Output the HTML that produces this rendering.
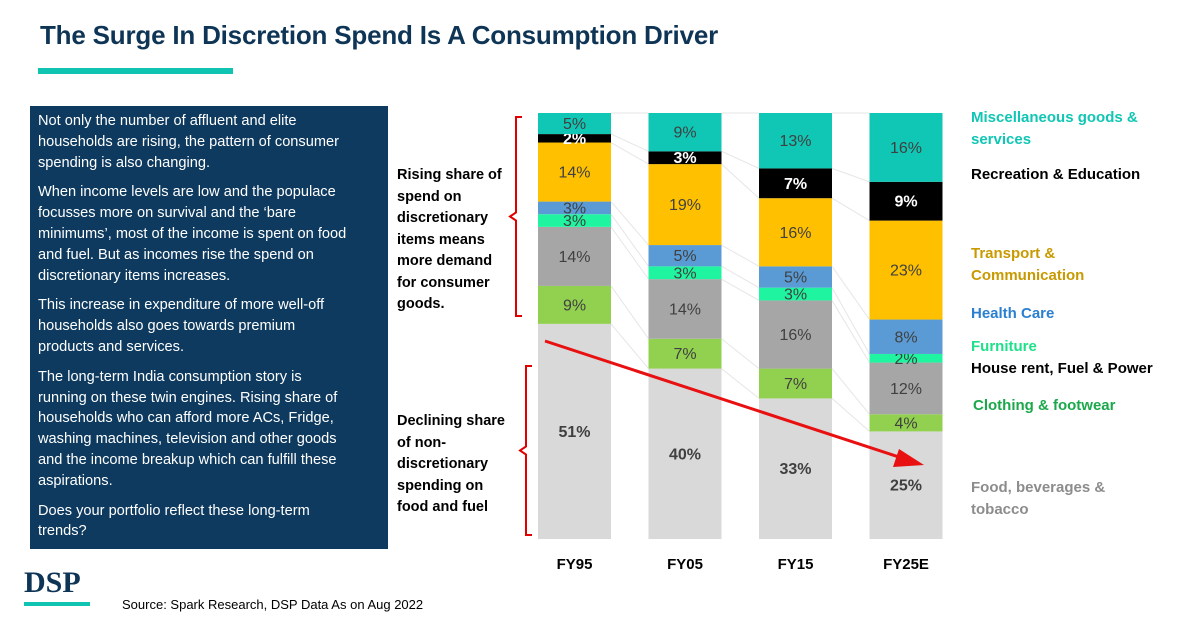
<!DOCTYPE html>
<html><head><meta charset="utf-8"><style>
body{margin:0;width:1200px;height:628px;background:#fff;font-family:"Liberation Sans",sans-serif;overflow:hidden;position:relative}
.abs{position:absolute}
#title{left:40px;top:20px;font-size:26px;font-weight:bold;color:#0f3556;letter-spacing:-0.2px}
#panel{left:30px;top:106px;width:358px;height:443px;background:#0d3a5e;color:#fff;font-size:14.6px;line-height:20.8px;box-sizing:border-box;padding:5px 8px;white-space:nowrap}
#panel p{margin:0 0 9px 0}
.ann{font-size:14.5px;font-weight:bold;color:#000;line-height:21.5px}
</style></head><body>
<div id="title" class="abs">The Surge In Discretion Spend Is A Consumption Driver</div>
<div class="abs" style="left:38px;top:68px;width:195px;height:6px;background:#0fc4b0"></div>
<div id="panel" class="abs">
<p>Not only the number of affluent and elite<br>households are rising, the pattern of consumer<br>spending is also changing.</p>
<p>When income levels are low and the populace<br>focusses more on survival and the ‘bare<br>minimums’, most of the income is spent on food<br>and fuel. But as incomes rise the spend on<br>discretionary items increases.</p>
<p>This increase in expenditure of more well-off<br>households also goes towards premium<br>products and services.</p>
<p>The long-term India consumption story is<br>running on these twin engines. Rising share of<br>households who can afford more ACs, Fridge,<br>washing machines, television and other goods<br>and the income breakup which can fulfill these<br>aspirations.</p>
<p>Does your portfolio reflect these long-term<br>trends?</p>
</div>
<div class="abs ann" style="left:397px;top:165px">Rising share of<br>spend on<br>discretionary<br>items means<br>more demand<br>for consumer<br>goods.</div>
<div class="abs ann" style="left:397px;top:411px">Declining share<br>of non-<br>discretionary<br>spending on<br>food and fuel</div>
<div class="abs" style="left:24px;top:566px;font-family:'Liberation Serif',serif;font-weight:bold;font-size:30px;color:#0f3556">DSP</div>
<div class="abs" style="left:24px;top:602px;width:66px;height:4px;background:#0fc4b0"></div>
<div class="abs" style="left:122px;top:597px;font-size:13px;color:#000">Source: Spark Research, DSP Data As on Aug 2022</div>
<svg class="abs" style="left:0;top:0" width="1200" height="628" id="chart"></svg>
<script>
const categories=["FY95","FY05","FY15","FY25E"];
const food=[51,40,33,25];
const clothing=[9,7,7,4];
const houseRent=[14,14,16,12];
const furniture=[3,3,3,2];
const health=[3,5,5,8];
const transport=[14,19,16,23];
const recreation=[2,3,7,9];
const misc=[5,9,13,16];
const seriesList=[
 {name:"food",vals:food,color:"#d9d9d9",tc:"#404040",bold:true,label:"Food, beverages &|tobacco",lc:"#8c8c8c"},
 {name:"clothing",vals:clothing,color:"#92d050",tc:"#404040",label:"Clothing & footwear",lc:"#1aa84a"},
 {name:"house-rent",vals:houseRent,color:"#a6a6a6",tc:"#404040",label:"House rent, Fuel & Power",lc:"#000"},
 {name:"furniture",vals:furniture,color:"#1ff5a0",tc:"#404040",label:"Furniture",lc:"#1fe08a"},
 {name:"health",vals:health,color:"#5b9bd5",tc:"#404040",label:"Health Care",lc:"#2a7fd0"},
 {name:"transport",vals:transport,color:"#ffc000",tc:"#404040",label:"Transport &|Communication",lc:"#c89a00"},
 {name:"recreation",vals:recreation,color:"#000000",tc:"#fff",bold:true,label:"Recreation & Education",lc:"#000"},
 {name:"misc",vals:misc,color:"#10c6b4",tc:"#404040",label:"Miscellaneous goods &|services",lc:"#10c6b4"}
];
const legendY=[492,410,373,351,318,258,179,122];
const svg=document.getElementById('chart');const NS="http://www.w3.org/2000/svg";
const top0=113,bot=539,barW=73,x0=538,step=110.5;
function xPos(i){return x0+i*step;}
function mk(t,a){const e=document.createElementNS(NS,t);for(const k in a)e.setAttribute(k,a[k]);svg.appendChild(e);return e;}
const totals=categories.map((c,i)=>seriesList.reduce((s,ser)=>s+ser.vals[i],0));
function yScale(v,i){return (bot-top0)*v/totals[i];}
const tops=categories.map(()=>[]);
categories.forEach((c,i)=>{let y=bot;seriesList.forEach((s,k)=>{const h=yScale(s.vals[i],i);y-=h;tops[i][k]=y;});});
for(let i=0;i<categories.length-1;i++){seriesList.forEach((s,k)=>{const l=mk('line',{x1:xPos(i)+barW,y1:tops[i][k],x2:xPos(i+1),y2:tops[i+1][k],stroke:"#e6e6e6","stroke-width":1});
});}
categories.forEach((c,i)=>{let y=bot;seriesList.forEach((s,k)=>{const h=yScale(s.vals[i],i);y-=h;
 const r=mk('rect',{x:xPos(i),y:y,width:barW,height:h,fill:s.color});
 
 const t=mk('text',{x:xPos(i)+barW/2,y:y+h/2+5.5,'text-anchor':'middle','font-size':16,fill:s.tc,'font-weight':s.bold?'bold':'normal'});
 t.textContent=s.vals[i]+'%';});
 const xl=mk('text',{x:xPos(i)+barW/2,y:569,'text-anchor':'middle','font-size':15,'font-weight':'bold',fill:'#000'});
 xl.textContent=c;});
seriesList.forEach((s,k)=>{const parts=s.label.split('|');
 parts.forEach((p,j)=>{const t=mk('text',{x:s.name==='clothing'?973:971,y:legendY[k]+j*22,'font-size':15,'font-weight':'bold',fill:s.lc});t.textContent=p;
 });});
function brace(x,y1,y2,name){const m=(y1+y2)/2;const p=mk('path',{d:`M${x+8},${y1} L${x+2},${y1} L${x+2},${m-4} L${x-4},${m} L${x+2},${m+4} L${x+2},${y2} L${x+8},${y2}`,fill:'none',stroke:'#e00000','stroke-width':2});
}
brace(514,117,316,'rising-brace');brace(524,366,535,'declining-brace');
const a=mk('line',{x1:545,y1:341,x2:905,y2:459,stroke:'#e81010','stroke-width':3});
const ah=mk('polygon',{points:'924,465 899,449 893,467',fill:'#e81010'});
</script>
</body></html>
